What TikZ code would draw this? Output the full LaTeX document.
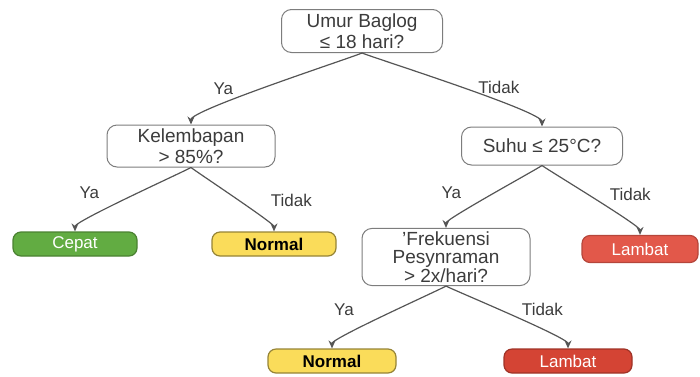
\documentclass[tikz,border=0pt]{standalone}
\usepackage{fontspec}
\setmainfont{Liberation Sans}
\usetikzlibrary{positioning,arrows.meta}

\definecolor{edgegray}{RGB}{85,85,85}
\definecolor{boxgray}{RGB}{125,125,125}
\definecolor{textgray}{RGB}{60,60,60}
\definecolor{cepatgreen}{RGB}{98,172,66}
\definecolor{normalyellow}{RGB}{250,220,90}
\definecolor{lambatred}{RGB}{226,88,74}
\definecolor{lambatdark}{RGB}{212,68,52}

\tikzset{
  question/.style={draw=boxgray, rounded corners=5pt, fill=white, align=center, text=textgray, font=\fontsize{9.5}{10.5}\selectfont, inner sep=1.5pt, line width=0.5pt},
  result/.style={rounded corners=4pt, minimum width=62pt, minimum height=12pt, inner sep=1pt, font=\fontsize{8.5}{9}\selectfont, line width=0.6pt},
  branch/.style={-{Stealth[length=4pt,width=3.5pt]}, draw=edgegray, line width=0.6pt},
  answer/.style={font=\fontsize{8.5}{9}\selectfont, text=textgray, inner sep=1pt}
}

\begin{document}
\begin{tikzpicture}[on grid, x=1pt, y=1pt]
\useasboundingbox (0,0) rectangle (350,-188);

\node[question, minimum width=80.5pt, minimum height=21.5pt] (umur) at (181,-15.5) {Umur Baglog\\≤ 18 hari?};
\node[question, minimum width=84pt, minimum height=21pt, below left=57.5pt and 85.5pt of umur] (kelembapan) {Kelembapan\\> 85\%?};
\node[question, minimum width=80.5pt, minimum height=19pt, below right=57.5pt and 90pt of umur] (suhu) {Suhu ≤ 25°C?};
\node[result, fill=cepatgreen, draw=cepatgreen!75!black, text=white, below left=49pt and 58pt of kelembapan] (cepat) {Cepat};
\node[result, fill=normalyellow, draw=normalyellow!60!black, font=\fontsize{8.5}{9}\selectfont\bfseries, below right=49pt and 41.5pt of kelembapan] (normalA) {Normal};
\node[question, minimum width=84pt, minimum height=28.5pt, font=\fontsize{9.5}{9.3}\selectfont, below left=55.5pt and 48pt of suhu] (frekuensi) {'Frekuensi\\Pesynraman\\> 2x/hari?};
\node[result, minimum width=58pt, minimum height=13.5pt, fill=lambatred, draw=lambatred!80!black, text=white, below right=51.5pt and 49pt of suhu] (lambatA) {Lambat};
\node[result, minimum width=64pt, fill=normalyellow, draw=normalyellow!60!black, font=\fontsize{8.5}{9}\selectfont\bfseries, below left=52pt and 57pt of frekuensi] (normalB) {Normal};
\node[result, minimum width=64pt, fill=lambatdark, draw=lambatdark!75!black, text=white, below right=52pt and 61pt of frekuensi] (lambatB) {Lambat};

% branches, labels shifted off the line
\draw[branch] (umur.south) to[out=203, in=90, looseness=0.2] node[answer, pos=0.7, xshift=-1pt, yshift=7.5pt] {Ya} (kelembapan.north);
\draw[branch] (umur.south) to[out=338, in=90, looseness=0.2] node[answer, pos=0.7, xshift=-3.5pt, yshift=9pt] {Tidak} (suhu.north);
\draw[branch] (kelembapan.south) to[out=209, in=90, looseness=0.2] node[answer, pos=0.7, xshift=-4.5pt, yshift=10.5pt] {Ya} (cepat.north);
\draw[branch] (kelembapan.south) to[out=322, in=90, looseness=0.2] node[answer, pos=0.7, xshift=17pt, yshift=7.5pt] {Tidak} (normalA.north);
\draw[branch] (suhu.south) to[out=214, in=90, looseness=0.2] node[answer, pos=0.7, xshift=-7pt, yshift=9.5pt] {Ya} (frekuensi.north);
\draw[branch] (suhu.south) to[out=324, in=90, looseness=0.2] node[answer, pos=0.7, xshift=5pt, yshift=11pt] {Tidak} (lambatA.north);
\draw[branch] (frekuensi.south) to[out=209, in=90, looseness=0.2] node[answer, pos=0.7, xshift=-5.5pt, yshift=11pt] {Ya} (normalB.north);
\draw[branch] (frekuensi.south) to[out=333, in=90, looseness=0.2] node[answer, pos=0.7, xshift=-0.5pt, yshift=11pt] {Tidak} (lambatB.north);
\end{tikzpicture}
\end{document}
